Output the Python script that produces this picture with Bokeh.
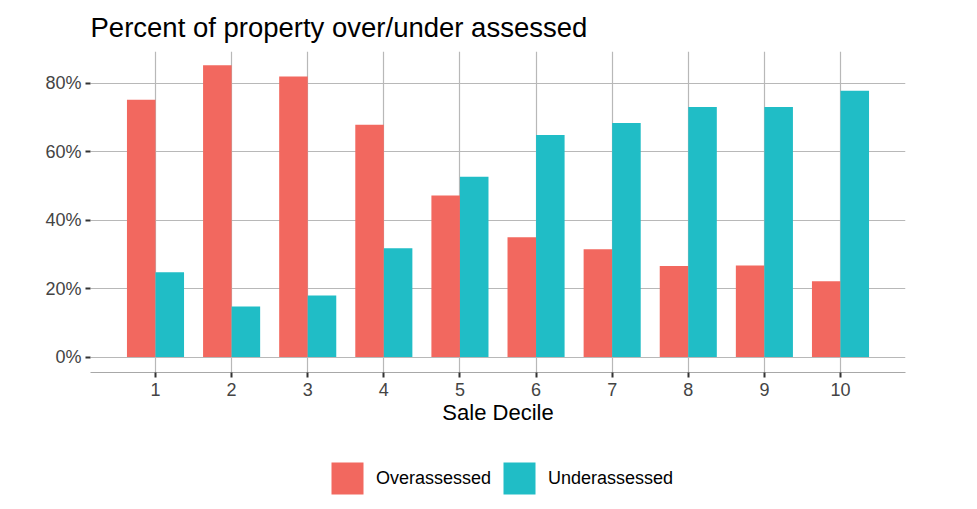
from bokeh.plotting import figure
from bokeh.models import (Range1d, FixedTicker, NumeralTickFormatter, Legend,
                          LegendItem, ColumnDataSource)
from bokeh.layouts import column
from bokeh.transform import dodge
from bokeh.embed import file_html
from bokeh.resources import INLINE

deciles = [1, 2, 3, 4, 5, 6, 7, 8, 9, 10]
overassessed = [0.752, 0.853, 0.820, 0.679, 0.472, 0.350, 0.315, 0.266, 0.268, 0.222]
underassessed = [0.248, 0.148, 0.180, 0.318, 0.527, 0.649, 0.684, 0.731, 0.731, 0.778]
y_ticks = [0.0, 0.2, 0.4, 0.6, 0.8]
series_names = ["Overassessed", "Underassessed"]
colors = ["#F2685F", "#20BDC6"]

FONT = "Liberation Sans"

src = ColumnDataSource(dict(x=deciles, over=overassessed, under=underassessed))

p = figure(width=961, height=440, output_backend="svg", toolbar_location=None,
           x_range=Range1d(0.146, 10.854), y_range=Range1d(-0.045, 0.893),
           min_border_left=90, min_border_right=56, min_border_top=51,
           min_border_bottom=68, outline_line_color=None,
           title="Percent of property over/under assessed")

p.title.text_font = FONT
p.title.text_font_size = "27.5px"
p.title.text_font_style = "normal"
p.title.text_color = "#000000"
p.title.align = "left"
p.title.offset = 0
p.title.standoff = 18

bw = 0.375
r1 = p.vbar(x=dodge("x", -bw / 2), top="over", bottom=0, width=bw, source=src,
            fill_color=colors[0], line_color=None)
r2 = p.vbar(x=dodge("x", bw / 2), top="under", bottom=0, width=bw, source=src,
            fill_color=colors[1], line_color=None)

# axes
xa = p.xaxis[0]
xa.ticker = FixedTicker(ticks=deciles)
xa.axis_line_color = "#a8a8a8"
xa.axis_line_width = 1
xa.major_tick_line_color = "#333333"
xa.major_tick_line_width = 2
xa.major_tick_out = 5
xa.major_tick_in = 0
xa.minor_tick_line_color = None
xa.major_label_text_font = FONT
xa.major_label_text_font_size = "18px"
xa.major_label_text_color = "#444444"
xa.major_label_standoff = 5
xa.axis_label = "Sale Decile"
xa.axis_label_text_font = FONT
xa.axis_label_text_font_size = "22px"
xa.axis_label_text_font_style = "normal"
xa.axis_label_text_color = "#000000"
xa.axis_label_standoff = 1

ya = p.yaxis[0]
ya.ticker = FixedTicker(ticks=y_ticks)
ya.formatter = NumeralTickFormatter(format="0%")
ya.axis_line_color = None
ya.major_tick_line_color = "#333333"
ya.major_tick_line_width = 2
ya.major_tick_out = 5
ya.major_tick_in = 0
ya.minor_tick_line_color = None
ya.major_label_text_font = FONT
ya.major_label_text_font_size = "18px"
ya.major_label_text_color = "#444444"
ya.major_label_standoff = 4

p.xgrid.ticker = FixedTicker(ticks=deciles)
p.ygrid.ticker = FixedTicker(ticks=y_ticks)
for g in (p.xgrid[0], p.ygrid[0]):
    g.grid_line_color = "#b8b8b8"
    g.grid_line_width = 1.2

# legend strip below the chart
q = figure(width=961, height=60, output_backend="svg", toolbar_location=None,
           x_range=Range1d(0, 1), y_range=Range1d(0, 1),
           x_axis_location=None, y_axis_location=None,
           min_border_left=0, min_border_right=0, min_border_top=0,
           min_border_bottom=0, outline_line_color=None)
q.grid.visible = False
l1 = q.vbar(x=dodge("x", -bw / 2), top="over", bottom=0, width=bw, source=src,
            fill_color=colors[0], line_color=None, visible=False)
l2 = q.vbar(x=dodge("x", bw / 2), top="under", bottom=0, width=bw, source=src,
            fill_color=colors[1], line_color=None, visible=False)

legend = Legend(items=[LegendItem(label=series_names[0], renderers=[l1]),
                       LegendItem(label=series_names[1], renderers=[l2])],
                orientation="horizontal", location=(237, 2),
                glyph_width=40, glyph_height=40, label_standoff=9, spacing=8,
                padding=0, margin=0, border_line_color=None,
                background_fill_alpha=0,
                label_text_font=FONT, label_text_font_size="18px",
                label_text_color="#000000")
q.add_layout(legend, "center")

open("out.html", "w").write(file_html(column(p, q), INLINE))
